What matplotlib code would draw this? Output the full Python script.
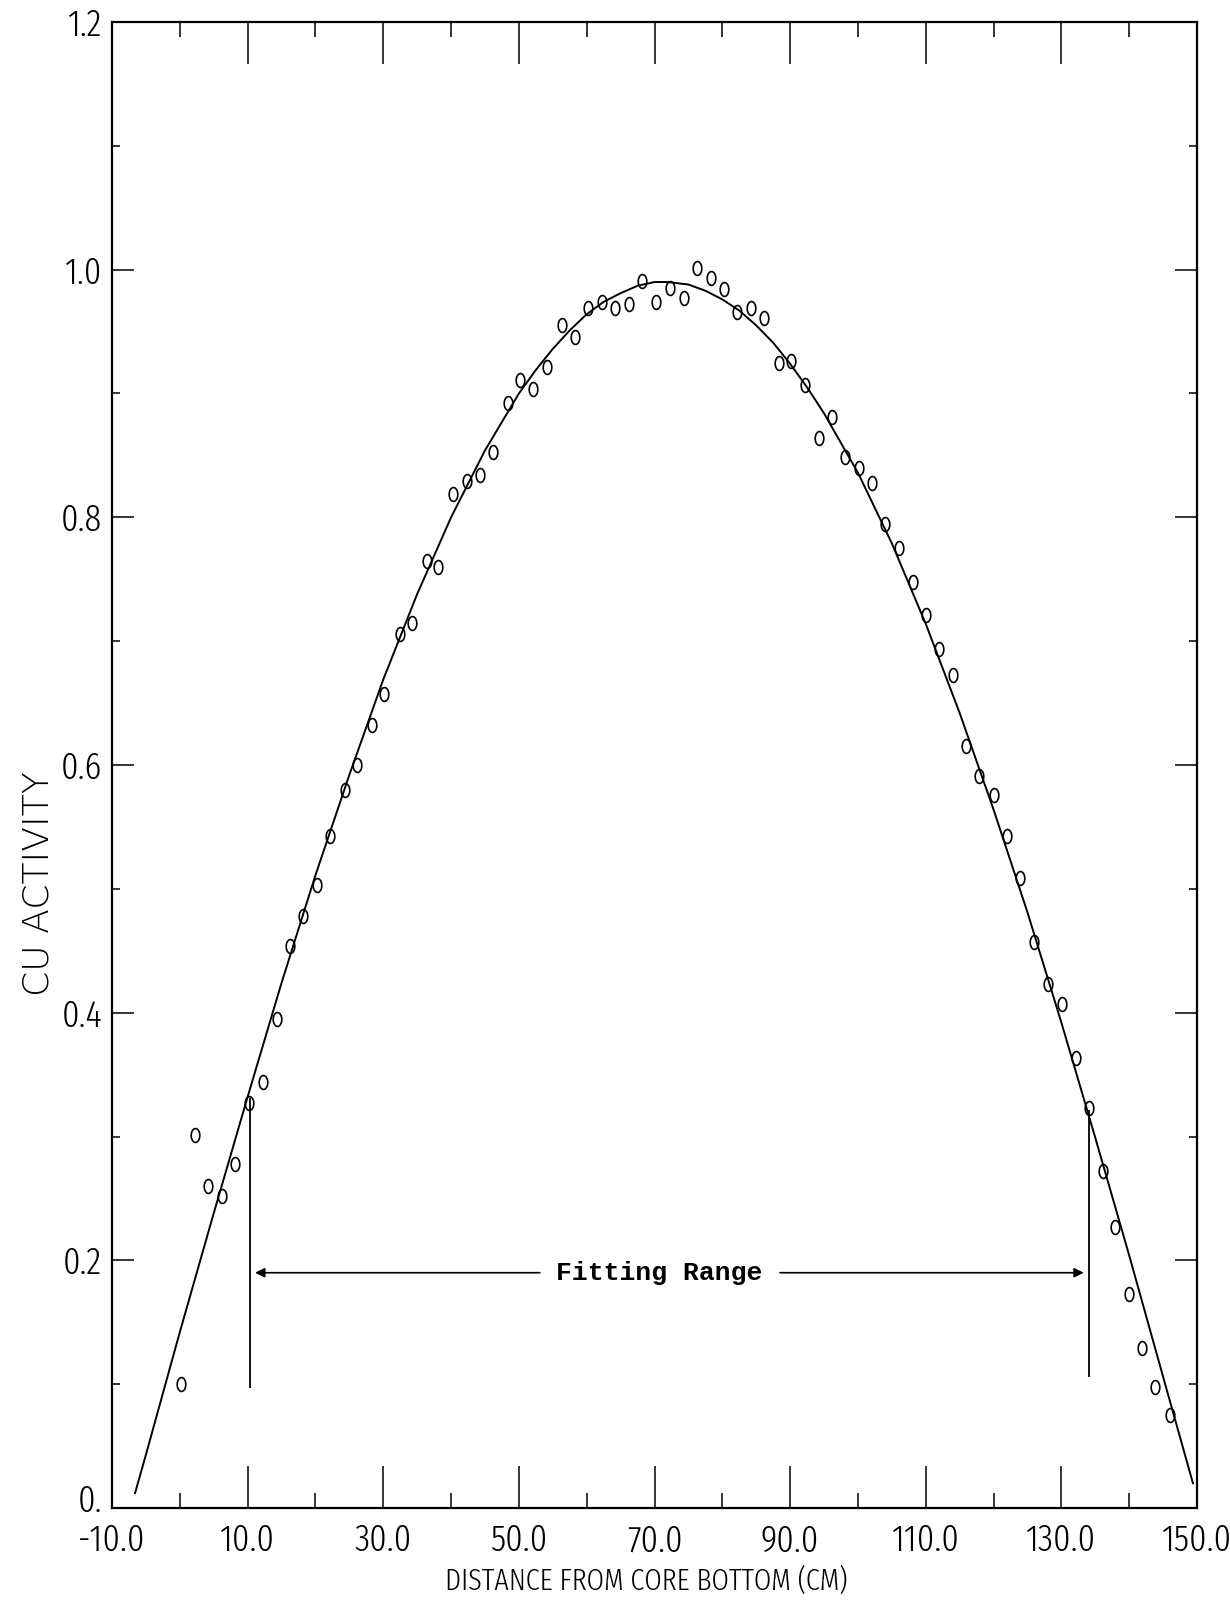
import numpy as np
import matplotlib
matplotlib.use('Agg')
import matplotlib.pyplot as plt
from matplotlib.path import Path
from matplotlib import font_manager as fm
from matplotlib.transforms import ScaledTranslation

# ---------------- data ----------------
dist_cm = [0.2, 2.2, 4.2, 6.2, 8.1, 10.2, 12.2, 14.3, 16.3, 18.2,
           20.2, 22.2, 24.3, 26.1, 28.3, 30.1, 32.4, 34.2, 36.4, 38.1,
           40.3, 42.3, 44.3, 46.2, 48.4, 50.2, 52.1, 54.1, 56.3, 58.3,
           60.2, 62.2, 64.2, 66.3, 68.1, 70.2, 72.3, 74.3, 76.2, 78.3,
           80.2, 82.2, 84.3, 86.1, 88.3, 90.2, 92.2, 94.2, 96.2, 98.1,
           100.2, 102.1, 104.0, 106.0, 108.1, 110.1, 111.9, 114.0, 116.0, 117.9,
           120.0, 122.0, 123.9, 126.0, 128.0, 130.1, 132.2, 134.0, 136.1, 137.9,
           139.9, 141.9, 143.8, 146.0]
cu_activity = [0.100, 0.301, 0.260, 0.252, 0.278, 0.327, 0.344, 0.395, 0.454, 0.478,
               0.503, 0.543, 0.580, 0.600, 0.632, 0.657, 0.706, 0.715, 0.765, 0.760,
               0.819, 0.829, 0.834, 0.853, 0.892, 0.911, 0.904, 0.921, 0.955, 0.946,
               0.969, 0.974, 0.969, 0.972, 0.991, 0.974, 0.985, 0.977, 1.001, 0.993,
               0.984, 0.966, 0.969, 0.961, 0.925, 0.926, 0.907, 0.864, 0.881, 0.849,
               0.840, 0.828, 0.795, 0.775, 0.748, 0.721, 0.694, 0.673, 0.615, 0.591,
               0.576, 0.543, 0.509, 0.457, 0.423, 0.407, 0.363, 0.323, 0.272, 0.227,
               0.173, 0.129, 0.098, 0.075]

fit_x = [-6.6, -5, 0, 5, 10, 15, 20, 25, 30, 35, 40, 45, 50, 52.5, 55, 57.5,
         60, 62.5, 65, 67.5, 70, 72, 75, 77.5, 80, 82.5, 85, 87.5, 90, 92.5,
         95, 100, 105, 110, 115, 120, 125, 130, 135, 140, 145, 149.4]
fit_y = [0.012, 0.043, 0.142, 0.238, 0.332, 0.424, 0.511, 0.592, 0.669, 0.738,
         0.800, 0.854, 0.900, 0.919, 0.936, 0.951, 0.964, 0.974, 0.981, 0.987,
         0.990, 0.990, 0.988, 0.983, 0.976, 0.967, 0.955, 0.941, 0.924, 0.905,
         0.884, 0.836, 0.779, 0.714, 0.642, 0.564, 0.481, 0.392, 0.299, 0.204,
         0.106, 0.020]

x_major_ticks = [-10, 10, 30, 50, 70, 90, 110, 130, 150]
x_tick_labels = ['-10.0', '10.0', '30.0', '50.0', '70.0', '90.0', '110.0', '130.0', '150.0']
x_minor_ticks = [0, 20, 40, 60, 80, 100, 120, 140]
y_major_ticks = [0.0, 0.2, 0.4, 0.6, 0.8, 1.0, 1.2]
y_tick_labels = ['0.', '0.2', '0.4', '0.6', '0.8', '1.0', '1.2']
y_minor_ticks = [0.1, 0.3, 0.5, 0.7, 0.9, 1.1]

range_x = [10.3, 134.0]
range_y_bottom = [0.097, 0.106]
range_y_top = [0.331, 0.321]
arrow_y = 0.19
arrow_left = (53.1, 11.1)     # (tail, head)
arrow_right = (88.5, 133.3)   # (tail, head)
range_label = 'Fitting Range'
range_label_x = 70.7

x_title = 'DISTANCE FROM CORE BOTTOM (CM)'
y_title = 'CU ACTIVITY'


# ---------------- fonts ----------------
def find_narrow_font():
    best = None
    for f in fm.fontManager.ttflist:
        fn = f.fname.lower().replace('-', '').replace('_', '').replace(' ', '')
        nm = f.name.lower()
        if 'extracondensed' in fn:
            r = 0
        elif 'ultracondensed' in fn:
            r = 1
        elif 'semicondensed' in fn:
            r = 3
        elif 'condensed' in fn or 'narrow' in fn or 'narrow' in nm or 'condensed' in nm:
            r = 2
        else:
            continue
        if f.style != 'normal' or 'italic' in fn or 'oblique' in fn:
            continue
        if 'mono' in fn:
            continue
        try:
            w = int(f.weight)
        except Exception:
            w = {'normal': 400, 'regular': 400, 'bold': 700, 'light': 300}.get(str(f.weight).lower(), 400)
        score = (r, abs(w - 320))
        if best is None or score < best[0]:
            best = (score, f.fname)
    return best[1] if best else None


narrow = find_narrow_font()
if narrow:
    tick_fp = fm.FontProperties(fname=narrow, size=27)
    xlab_fp = fm.FontProperties(fname=narrow, size=22)
else:
    tick_fp = fm.FontProperties(family='DejaVu Sans', size=19)
    xlab_fp = fm.FontProperties(family='DejaVu Sans', size=16)

# ---------------- figure ----------------
fig = plt.figure(figsize=(12.3, 16.04), dpi=100)
ax = fig.add_axes([112 / 1230, 96 / 1604, 1085 / 1230, 1486 / 1604])

# elliptical "o" marker
t = np.linspace(0, 2 * np.pi, 41)
ell = Path(np.column_stack([0.62 * np.cos(t), np.sin(t)]), closed=True)

ax.plot(fit_x, fit_y, color='black', lw=1.4, solid_joinstyle='round')
ax.plot(dist_cm, cu_activity, linestyle='none', marker=ell, markersize=10,
        markerfacecolor='none', markeredgecolor='black', markeredgewidth=1.2)

# fitting range markers
ax.vlines(range_x, range_y_bottom, range_y_top, colors='black', lw=1.3)
arrow_props = dict(arrowstyle='-|>', mutation_scale=14, lw=1.2, color='black',
                   shrinkA=0, shrinkB=0)
ax.annotate('', xy=(arrow_left[1], arrow_y), xytext=(arrow_left[0], arrow_y),
            arrowprops=arrow_props)
ax.annotate('', xy=(arrow_right[1], arrow_y), xytext=(arrow_right[0], arrow_y),
            arrowprops=arrow_props)
ax.text(range_label_x, arrow_y, range_label, ha='center', va='center',
        family=['Liberation Mono', 'DejaVu Sans Mono'], fontweight='bold', fontsize=19)

# axes
ax.set_xlim(-10, 150)
ax.set_ylim(0, 1.2)
ax.set_xticks(x_major_ticks)
ax.set_xticks(x_minor_ticks, minor=True)
ax.set_yticks(y_major_ticks)
ax.set_yticks(y_minor_ticks, minor=True)
ax.set_xticklabels(x_tick_labels, fontproperties=tick_fp)
ax.set_yticklabels(y_tick_labels, fontproperties=tick_fp)

ax.tick_params(axis='x', which='major', direction='in', length=30, width=1.1,
               top=True, bottom=True, pad=11)
ax.tick_params(axis='x', which='minor', direction='in', length=11, width=1.1,
               top=True, bottom=True)
ax.tick_params(axis='y', which='major', direction='in', length=16, width=1.1,
               left=True, right=True, pad=7)
ax.tick_params(axis='y', which='minor', direction='in', length=6, width=1.1,
               left=True, right=True)
for s in ax.spines.values():
    s.set_linewidth(1.6)

# lift the bottom "0." label a little so it clears "-10.0" below it
zero_lbl = ax.get_yticklabels()[0]
zero_lbl.set_transform(zero_lbl.get_transform() + ScaledTranslation(0, 7 / 72, fig.dpi_scale_trans))

ax.set_xlabel(x_title, fontproperties=xlab_fp, va='center', ha='center')
ax.xaxis.set_label_coords(0.492, -0.0491)
ax.set_ylabel(y_title, family='DejaVu Sans', fontsize=26, fontweight='light',
              va='center', ha='center')
ax.yaxis.set_label_coords(-0.0673, 0.42)

fig.savefig('out.png', dpi=100, facecolor='white')
